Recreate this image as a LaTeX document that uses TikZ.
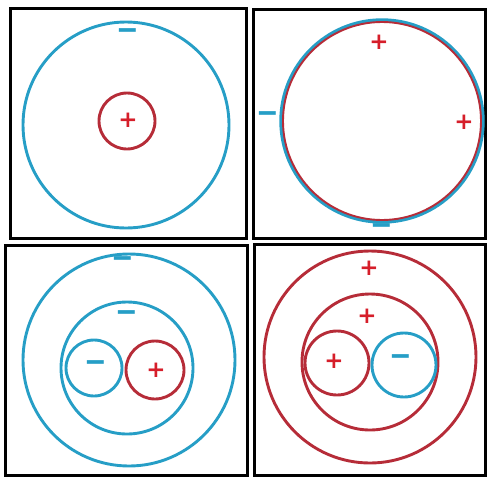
\documentclass[tikz,border=0pt]{standalone}
\usepackage{fontspec}
\newfontfamily\signfont{DejaVu Sans}[BoldFont={DejaVu Sans Bold}]
\definecolor{negblue}{RGB}{38,158,198}
\definecolor{posred}{RGB}{182,44,56}
\definecolor{signred}{RGB}{214,30,42}
\newcommand{\possign}{\scalebox{1.15}{+}}
\newcommand{\negsign}{\scalebox{1.35}[1.6]{−}}
\tikzset{
  frame/.style={draw=black,line width=3pt,line join=miter},
  shell/.style={line width=2.9pt},
  sign/.style={font={\signfont\bfseries\fontsize{20}{20}\selectfont},inner sep=0pt},
  plusmark/.style={sign,text=signred},
  minusmark/.style={sign,text=negblue}
}
\begin{document}
\begin{tikzpicture}[x=1pt,y=-1pt,line cap=round,line join=round]
  \useasboundingbox (0,0) rectangle (487,477);
  % panel frames
  \draw[frame] (10,8) rectangle (246,238);
  \draw[frame] (253,9) rectangle (485,238);
  \draw[frame] (5,245) rectangle (247,475);
  \draw[frame] (254,244) rectangle (485,475);

  % top left
  \draw[shell,negblue] (126,125) circle[radius=103];
  \draw[shell,posred] (127,121) circle[radius=28];
  \node[minusmark] (a1) at (128,35) {\negsign};
  \node[plusmark] (a2) at (128,120) {\possign};

  % top right
  \draw[line width=3.4pt,negblue] (382,121) circle[radius=101];
  \draw[line width=1.9pt,posred] (382,121) circle[radius=99];
  \node[plusmark] (b1) at (379,42) {\possign};
  \node[plusmark] (b2) at (464,122) {\possign};
  \node[minusmark] (b3) at (268,118) {\negsign};
  \node[minusmark] (b4) at (382,230) {\negsign};

  % bottom left
  \draw[shell,negblue] (129,360) circle[radius=106];
  \draw[shell,negblue] (127,368) circle[radius=66];
  \draw[shell,negblue] (94,368) circle[radius=28];
  \draw[shell,posred] (155,370) circle[radius=29];
  \node[minusmark] (c1) at (123,263) {\negsign};
  \node[minusmark] (c2) at (127,317) {\negsign};
  \node[minusmark] (c3) at (96,367) {\negsign};
  \node[plusmark] (c4) at (156,370) {\possign};

  % bottom right
  \draw[shell,posred] (370,357) circle[radius=106];
  \draw[shell,posred] (370,362) circle[radius=68];
  \draw[shell,posred] (337,363) circle[radius=32];
  \draw[shell,negblue] (404,365) circle[radius=32];
  \node[plusmark] (d1) at (369,268) {\possign};
  \node[plusmark] (d2) at (367,316) {\possign};
  \node[plusmark] (d3) at (334,361) {\possign};
  \node[minusmark] (d4) at (401,361) {\negsign};
\end{tikzpicture}
\end{document}
